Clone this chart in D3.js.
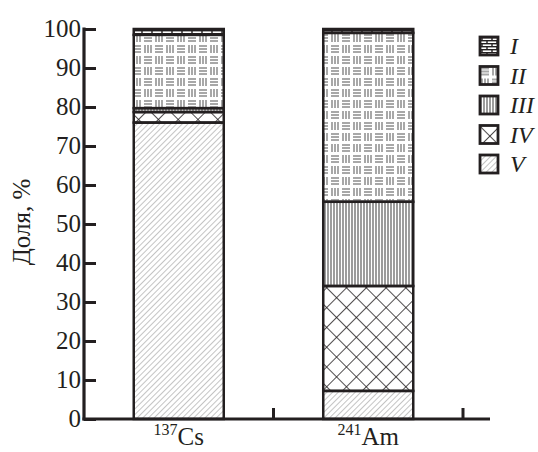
<!DOCTYPE html>
<html>
<head>
<meta charset="utf-8">
<script src="https://cdn.jsdelivr.net/npm/d3@7"></script>
<style>
  body { margin: 0; background: #fff; }
  svg text { font-family: "Times New Roman", "Liberation Serif", Times, serif; fill: #231f20; }
</style>
</head>
<body>
<svg id="chart" width="538" height="452"></svg>
<script>
// данные
const isotopes = [
  { mass: "137", sym: "Cs" },
  { mass: "241", sym: "Am" }
];
const fractions = ["V", "IV", "III", "II", "I"];   // снизу вверх
const cs137 = [76.0, 2.7, 1.0, 18.8, 1.5];
const am241 = [7.2, 26.9, 21.6, 43.3, 1.0];
const yTicks = [0, 10, 20, 30, 40, 50, 60, 70, 80, 90, 100];
const legendOrder = ["I", "II", "III", "IV", "V"];

const dark = "#231f20";
const svg = d3.select("#chart");

// штриховки
const defs = svg.append("defs");

// V — тонкая косая штриховка
let p = defs.append("pattern").attr("id", "pV")
  .attr("width", 4).attr("height", 4)
  .attr("patternUnits", "userSpaceOnUse")
  .attr("patternTransform", "rotate(45)");
p.append("line").attr("x1", 0).attr("y1", 0).attr("x2", 0).attr("y2", 4)
  .attr("stroke", "#8a8a8a").attr("stroke-width", 1);

// IV — косая сетка
p = defs.append("pattern").attr("id", "pIV")
  .attr("width", 14).attr("height", 14)
  .attr("patternUnits", "userSpaceOnUse")
  .attr("patternTransform", "rotate(45)");
p.append("line").attr("x1", 0).attr("y1", 0).attr("x2", 0).attr("y2", 14)
  .attr("stroke", dark).attr("stroke-width", 1.6);
p.append("line").attr("x1", 0).attr("y1", 0).attr("x2", 14).attr("y2", 0)
  .attr("stroke", dark).attr("stroke-width", 1.6);

// III — частые вертикальные линии
p = defs.append("pattern").attr("id", "pIII")
  .attr("width", 3).attr("height", 6)
  .attr("patternUnits", "userSpaceOnUse");
p.append("line").attr("x1", 1).attr("y1", 0).attr("x2", 1).attr("y2", 6)
  .attr("stroke", "#5a5a5a").attr("stroke-width", 1.2);

// II — «плетёнка»
p = defs.append("pattern").attr("id", "pII")
  .attr("width", 22).attr("height", 22)
  .attr("patternUnits", "userSpaceOnUse");
const weave = (g, x0, y0, horiz) => {
  for (let i = 0; i < 3; i++) {
    if (horiz) {
      g.append("line").attr("x1", x0 + 1).attr("x2", x0 + 9)
        .attr("y1", y0 + 2 + i * 3).attr("y2", y0 + 2 + i * 3);
    } else {
      g.append("line").attr("y1", y0 + 1).attr("y2", y0 + 9)
        .attr("x1", x0 + 2 + i * 3).attr("x2", x0 + 2 + i * 3);
    }
  }
};
const pg = p.append("g").attr("stroke", "#6d6d6d").attr("stroke-width", 1.2);
weave(pg, 0, 0, true);
weave(pg, 11, 0, false);
weave(pg, 0, 11, false);
weave(pg, 11, 11, true);

// I — «кирпичи»
p = defs.append("pattern").attr("id", "pI")
  .attr("width", 10).attr("height", 6)
  .attr("patternUnits", "userSpaceOnUse");
const pb = p.append("g").attr("stroke", dark).attr("stroke-width", 1.4);
pb.append("line").attr("x1", 0).attr("x2", 10).attr("y1", 0.7).attr("y2", 0.7);
pb.append("line").attr("x1", 0).attr("x2", 10).attr("y1", 3.7).attr("y2", 3.7);
pb.append("line").attr("x1", 2).attr("x2", 2).attr("y1", 0).attr("y2", 3);
pb.append("line").attr("x1", 7).attr("x2", 7).attr("y1", 3).attr("y2", 6);

// шкалы
const x = d3.scaleBand()
  .domain(isotopes.map(d => d.sym))
  .range([84, 463])
  .padding(0);
const y = d3.scaleLinear().domain([0, 100]).range([419, 29]);
const barW = x.bandwidth() * 0.475;

// таблица для d3.stack
const table = [cs137, am241].map((vals, i) => {
  const row = { sym: isotopes[i].sym };
  fractions.forEach((f, j) => row[f] = vals[j]);
  return row;
});
const series = d3.stack().keys(fractions)(table);

// столбцы
svg.append("g").selectAll("g")
  .data(series).enter().append("g")
  .attr("fill", d => "url(#p" + d.key + ")")
  .selectAll("rect")
  .data(d => d).enter().append("rect")
  .attr("x", d => x(d.data.sym) + (x.bandwidth() - barW) / 2)
  .attr("width", barW)
  .attr("y", d => y(d[1]))
  .attr("height", d => y(d[0]) - y(d[1]))
  .attr("stroke", dark).attr("stroke-width", 2.5);

// ось Y
const yAxis = d3.axisRight(y).tickValues(yTicks).tickSize(12).tickFormat("");
const gy = svg.append("g").attr("transform", "translate(84,0)").call(yAxis);
gy.select(".domain").remove();
gy.selectAll(".tick line").attr("stroke", dark).attr("stroke-width", 3);
gy.append("line").attr("x1", 0).attr("x2", 0)
  .attr("y1", y(100) - 1.5).attr("y2", y(0) + 1.5)
  .attr("stroke", dark).attr("stroke-width", 3.2);
gy.selectAll(".ylab").data(yTicks).enter().append("text")
  .attr("x", -3).attr("y", d => y(d) + 8)
  .attr("text-anchor", "end").attr("font-size", 25)
  .text(d => d);

// ось X
const bounds = x.domain().map(d => x(d) + x.bandwidth());
const gx = svg.append("g");
gx.append("line").attr("x1", 82.5).attr("x2", 490)
  .attr("y1", y(0)).attr("y2", y(0))
  .attr("stroke", dark).attr("stroke-width", 3.2);
gx.selectAll(".xt").data(bounds).enter().append("line")
  .attr("x1", d => d).attr("x2", d => d)
  .attr("y1", y(0)).attr("y2", y(0) - 11)
  .attr("stroke", dark).attr("stroke-width", 3);
const xl = gx.selectAll(".xl").data(isotopes).enter().append("text")
  .attr("x", d => x(d.sym) + x.bandwidth() / 2)
  .attr("y", 445)
  .attr("text-anchor", "middle");
xl.append("tspan").attr("font-size", 16).attr("dy", -10).text(d => d.mass);
xl.append("tspan").attr("font-size", 25).attr("dy", 10).text(d => d.sym);

// подпись оси Y
svg.append("text")
  .attr("transform", "translate(30,222) rotate(-90)")
  .attr("text-anchor", "middle").attr("font-size", 25)
  .text("Доля, %");

// легенда
const lg = svg.append("g").selectAll("g")
  .data(legendOrder).enter().append("g")
  .attr("transform", (d, i) => `translate(480,${37 + i * 29.5})`);
lg.append("rect").attr("width", 18).attr("height", 18)
  .attr("fill", d => "url(#p" + d + ")")
  .attr("stroke", dark).attr("stroke-width", 2.8);
lg.append("text").attr("x", 30).attr("y", 17)
  .attr("font-size", 24).attr("font-style", "italic")
  .text(d => d);
</script>
</body>
</html>
